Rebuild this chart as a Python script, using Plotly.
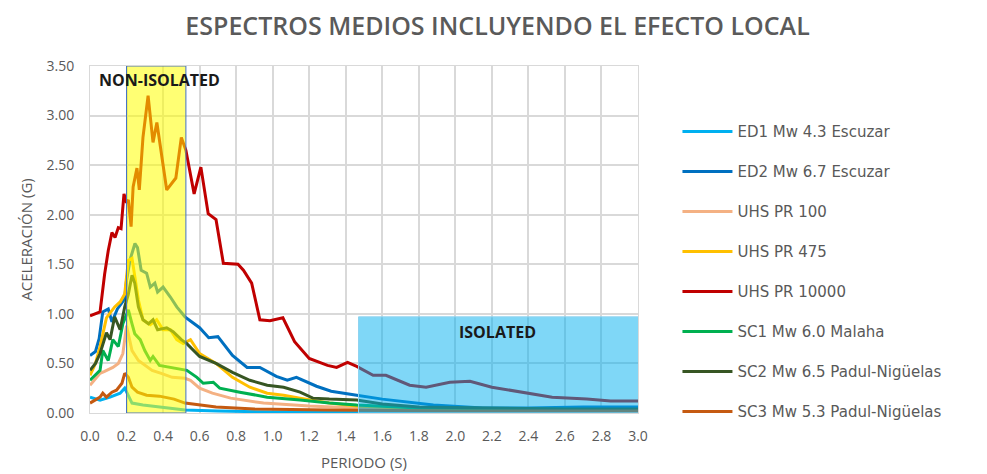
import plotly.graph_objects as go

# ---------------- data ----------------
names = ["ED1 Mw 4.3 Escuzar", "ED2 Mw 6.7 Escuzar", "UHS PR 100", "UHS PR 475",
         "UHS PR 10000", "SC1 Mw 6.0 Malaha", "SC2 Mw 6.5 Padul-Nigüelas",
         "SC3 Mw 5.3 Padul-Nigüelas"]
colors = ["#00B0F0", "#0070C0", "#F4B183", "#FFC000", "#C00000", "#00B050", "#375623", "#C55A11"]

ed1_t = [0.0, 0.055, 0.11, 0.165, 0.19, 0.21, 0.23, 0.29, 0.38, 0.52, 0.7, 1.0, 1.5, 2.0, 3.0]
ed1_g = [0.16, 0.13, 0.16, 0.20, 0.25, 0.18, 0.10, 0.08, 0.06, 0.03, 0.02, 0.01, 0.01, 0.01, 0.01]

ed2_t = [0.0, 0.03, 0.05, 0.07, 0.1, 0.12, 0.15, 0.17, 0.19, 0.2, 0.22, 0.246, 0.26, 0.28, 0.31,
         0.33, 0.355, 0.37, 0.4, 0.44, 0.475, 0.52, 0.6, 0.65, 0.7, 0.78, 0.86, 0.93, 1.02, 1.08,
         1.13, 1.24, 1.32, 1.46, 1.6, 1.88, 2.15, 2.4, 2.7, 3.0]
ed2_g = [0.58, 0.62, 0.75, 1.02, 1.05, 0.92, 1.05, 1.1, 1.15, 1.34, 1.55, 1.71, 1.67, 1.44, 1.41,
         1.27, 1.31, 1.22, 1.27, 1.17, 1.07, 0.97, 0.86, 0.76, 0.77, 0.58, 0.46, 0.46, 0.37, 0.33,
         0.36, 0.27, 0.22, 0.18, 0.14, 0.08, 0.05, 0.05, 0.06, 0.06]

u100_t = [0.0, 0.055, 0.08, 0.125, 0.155, 0.18, 0.2, 0.23, 0.265, 0.3, 0.34, 0.39, 0.45, 0.52,
          0.55, 0.6, 0.67, 0.77, 0.95, 1.2, 1.46, 1.8, 2.4, 3.0]
u100_g = [0.28, 0.40, 0.42, 0.46, 0.50, 0.60, 0.88, 0.63, 0.53, 0.48, 0.43, 0.40, 0.36, 0.35,
          0.33, 0.25, 0.20, 0.15, 0.10, 0.07, 0.05, 0.04, 0.03, 0.02]

u475_t = [0.0, 0.03, 0.055, 0.09, 0.135, 0.165, 0.19, 0.21, 0.23, 0.246, 0.265, 0.29, 0.33, 0.365,
          0.4, 0.44, 0.475, 0.51, 0.55, 0.6, 0.69, 0.78, 0.875, 0.97, 1.06, 1.15, 1.31, 1.46,
          1.7, 2.0, 2.5, 3.0]
u475_g = [0.38, 0.5, 0.67, 0.96, 1.07, 1.12, 1.2, 1.54, 1.56, 1.37, 1.14, 0.94, 0.89, 0.94,
          0.84, 0.84, 0.74, 0.70, 0.74, 0.6, 0.5, 0.36, 0.26, 0.20, 0.18, 0.15, 0.10, 0.07,
          0.05, 0.04, 0.03, 0.03]

u10k_t = [0.0, 0.03, 0.055, 0.08, 0.1, 0.12, 0.137, 0.155, 0.17, 0.186, 0.2, 0.21, 0.225, 0.236,
          0.257, 0.27, 0.29, 0.318, 0.345, 0.366, 0.42, 0.47, 0.5, 0.525, 0.57, 0.607, 0.647,
          0.69, 0.73, 0.81, 0.84, 0.885, 0.93, 0.985, 1.056, 1.12, 1.2, 1.3, 1.35, 1.41, 1.46,
          1.55, 1.62, 1.75, 1.84, 1.97, 2.08, 2.2, 2.39, 2.53, 2.72, 2.85, 3.0]
u10k_g = [0.98, 1.0, 1.02, 1.4, 1.64, 1.82, 1.77, 1.87, 1.86, 2.21, 2.12, 2.15, 1.88, 2.28,
          2.47, 2.25, 2.78, 3.2, 2.73, 2.93, 2.25, 2.37, 2.78, 2.65, 2.21, 2.48, 2.01,
          1.95, 1.51, 1.5, 1.44, 1.31, 0.94, 0.93, 0.96, 0.72, 0.55, 0.48, 0.46, 0.51, 0.47,
          0.38, 0.38, 0.28, 0.26, 0.31, 0.32, 0.26, 0.20, 0.16, 0.14, 0.12, 0.12]

sc1_t = [0.0, 0.055, 0.07, 0.1, 0.125, 0.155, 0.18, 0.21, 0.23, 0.245, 0.275, 0.3, 0.33, 0.345,
         0.38, 0.44, 0.49, 0.53, 0.585, 0.62, 0.675, 0.71, 0.82, 0.97, 1.15, 1.31, 1.46, 1.8,
         2.4, 3.0]
sc1_g = [0.33, 0.43, 0.63, 0.53, 0.74, 0.67, 0.9, 1.04, 0.9, 0.80, 0.74, 0.63, 0.53, 0.57,
         0.48, 0.46, 0.45, 0.43, 0.36, 0.30, 0.31, 0.25, 0.21, 0.16, 0.13, 0.10, 0.08, 0.05,
         0.04, 0.03]

sc2_t = [0.0, 0.03, 0.055, 0.09, 0.11, 0.135, 0.165, 0.19, 0.21, 0.23, 0.245, 0.265, 0.29, 0.32,
         0.345, 0.37, 0.42, 0.455, 0.5, 0.53, 0.6, 0.69, 0.78, 0.875, 0.97, 1.06, 1.15, 1.22,
         1.31, 1.46, 1.6, 1.8, 2.2, 2.6, 3.0]
sc2_g = [0.43, 0.5, 0.6, 0.81, 0.74, 0.97, 0.84, 1.07, 1.2, 1.39, 1.31, 1.07, 0.94, 0.90,
         0.94, 0.84, 0.86, 0.82, 0.74, 0.70, 0.57, 0.5, 0.41, 0.33, 0.28, 0.26, 0.21, 0.15,
         0.14, 0.13, 0.09, 0.06, 0.05, 0.04, 0.04]

sc3_t = [0.0, 0.055, 0.07, 0.09, 0.12, 0.145, 0.175, 0.19, 0.21, 0.23, 0.26, 0.31, 0.38, 0.46,
         0.52, 0.69, 0.9, 1.3, 2.0, 3.0]
sc3_g = [0.10, 0.16, 0.20, 0.16, 0.21, 0.23, 0.30, 0.40, 0.36, 0.26, 0.21, 0.18, 0.17, 0.14,
         0.10, 0.06, 0.04, 0.03, 0.02, 0.02]

periods = [ed1_t, ed2_t, u100_t, u475_t, u10k_t, sc1_t, sc2_t, sc3_t]
accels = [ed1_g, ed2_g, u100_g, u475_g, u10k_g, sc1_g, sc2_g, sc3_g]

# zones
non_iso_range = [0.2, 0.525, 0.0, 3.5]
iso_range = [1.47, 3.02, 0.0, 0.97]

x_ticks = [round(0.2 * i, 1) for i in range(16)]
y_ticks = [0.5 * i for i in range(8)]

# ---------------- figure ----------------
GRAY = "#595959"
fig = go.Figure()
for n, c, t, g in zip(names, colors, periods, accels):
    fig.add_trace(go.Scatter(x=t, y=g, mode="lines", name=n, legendgroup=n,
                             line=dict(color=c, width=3)))

fig.add_shape(type="rect", xref="x", yref="y",
              x0=non_iso_range[0], x1=non_iso_range[1], y0=non_iso_range[2], y1=non_iso_range[3],
              fillcolor="rgba(255,255,0,0.55)", line=dict(color="#4472C4", width=1), layer="above")
fig.add_shape(type="rect", xref="x", yref="y",
              x0=iso_range[0], x1=iso_range[1], y0=iso_range[2], y1=iso_range[3],
              fillcolor="rgba(0,176,240,0.5)", line=dict(color="#8FD3F0", width=1), layer="above")

fig.add_annotation(x=0.383, y=3.36, xref="x", yref="y", text="<b>NON-ISOLATED</b>",
                   showarrow=False, font=dict(family="Open Sans", size=16, color="#1a1a1a"),
                   yanchor="middle")
fig.add_annotation(x=2.233, y=0.82, xref="x", yref="y", text="<b>ISOLATED</b>",
                   showarrow=False, font=dict(family="Open Sans", size=16, color="#1a1a1a"),
                   yanchor="middle")

fig.update_layout(
    width=987, height=474,
    margin=dict(l=82, r=357, t=58, b=69),
    paper_bgcolor="white", plot_bgcolor="white",
    title=dict(text="ESPECTROS MEDIOS INCLUYENDO EL EFECTO LOCAL", x=0.496, xanchor="center",
               y=0.961, yanchor="middle",
               font=dict(family="Open Sans", size=25, color="#5a5a5a", weight=600)),
    font=dict(family="Open Sans", color=GRAY, size=14),
    legend=dict(x=1.072, y=0.858, xanchor="left", yanchor="top", itemwidth=50,
                font=dict(family="DejaVu Sans", size=15, color=GRAY),
                tracegroupgap=17.5, bgcolor="rgba(0,0,0,0)"),
    showlegend=True,
)
fig.update_xaxes(range=[0, 3.0], tickvals=x_ticks, ticktext=[f"{v:.1f}" for v in x_ticks],
                 showgrid=True, gridcolor="#D9D9D9", gridwidth=1.5, zeroline=False,
                 showline=True, linecolor="#D9D9D9", mirror=True,
                 ticks="outside", ticklen=10, tickcolor="rgba(0,0,0,0)",
                 title=dict(text="PERIODO (S)", font=dict(size=15, color=GRAY), standoff=13),
                 tickfont=dict(size=14, color=GRAY))
fig.update_yaxes(range=[0, 3.5], tickvals=y_ticks, ticktext=[f"{v:.2f}" for v in y_ticks],
                 showgrid=True, gridcolor="#D9D9D9", gridwidth=1.5, zeroline=False,
                 showline=True, linecolor="#D9D9D9", mirror=True,
                 ticks="outside", ticklen=12, tickcolor="rgba(0,0,0,0)",
                 title=dict(text="ACELERACIÓN (G)", font=dict(size=15, color=GRAY), standoff=10),
                 tickfont=dict(size=14, color=GRAY))

fig.write_html("out.html")
